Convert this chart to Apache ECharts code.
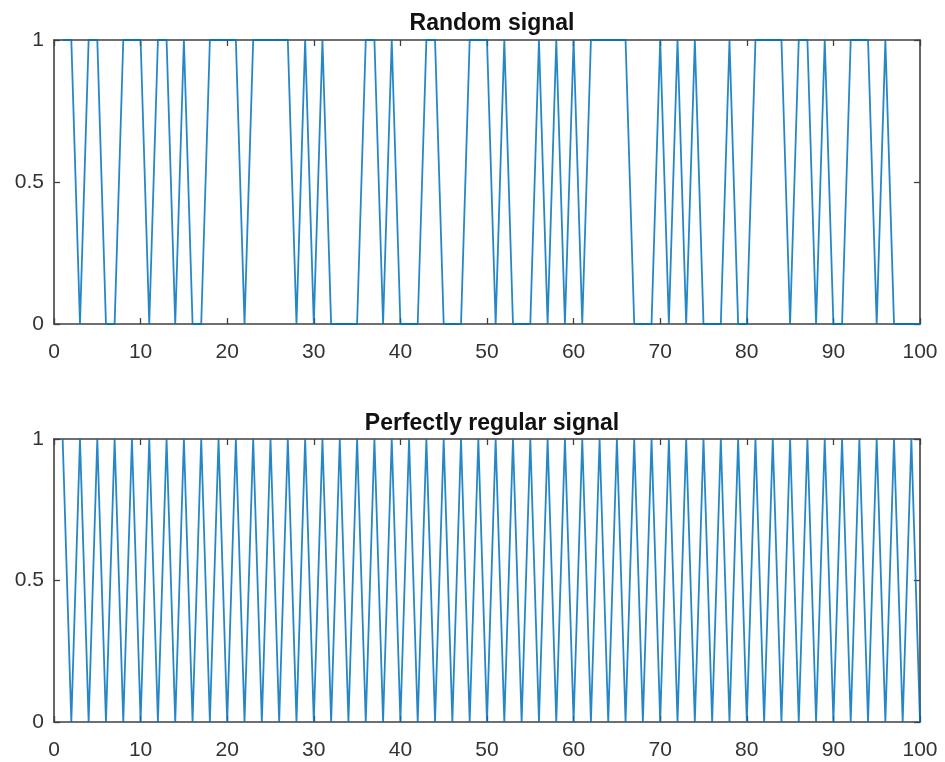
<!DOCTYPE html>
<html>
<head>
<meta charset="utf-8">
<script src="https://cdn.jsdelivr.net/npm/echarts@6/dist/echarts.min.js"></script>
<style>html,body{margin:0;padding:0;background:#fff}#c{width:945px;height:762px}</style>
</head>
<body>
<div id="c"></div>
<script>
var titles = ['Random signal', 'Perfectly regular signal'];
var xValues = [];
for (var i = 1; i <= 100; i++) xValues.push(i);
var randomSignal = [1,1,0,1,1,0,0,1,1,1, 0,1,1,0,1,0,0,1,1,1, 1,0,1,1,1,1,1,0,1,0, 1,0,0,0,0,1,1,0,1,0, 0,0,1,1,0,0,0,1,1,1, 0,1,0,0,0,1,0,1,0,1, 0,1,1,1,1,1,0,0,0,1, 0,1,0,1,0,0,0,1,0,0, 1,1,1,1,0,1,1,0,1,0, 0,1,1,1,0,1,0,0,0,0];
var regularSignal = [1,0,1,0,1,0,1,0,1,0, 1,0,1,0,1,0,1,0,1,0, 1,0,1,0,1,0,1,0,1,0, 1,0,1,0,1,0,1,0,1,0, 1,0,1,0,1,0,1,0,1,0, 1,0,1,0,1,0,1,0,1,0, 1,0,1,0,1,0,1,0,1,0, 1,0,1,0,1,0,1,0,1,0, 1,0,1,0,1,0,1,0,1,0, 1,0,1,0,1,0,1,0,1,0];

function pairs(ys){ return xValues.map(function(x,i){ return [x, ys[i]]; }); }

var FONT = '"Liberation Sans", Arial, Helvetica, sans-serif';
var AX = '#404040';
var TX = '#333333';
var grids = [
  {left: 54, right: 25, top: 40, height: 284},
  {left: 54, right: 25, top: 439, height: 283}
];
function xAx(g, pos, show){
  return {type:'value', gridIndex:g, position:pos, min:0, max:100, interval:10,
    axisLine:{show:true, onZero:false, lineStyle:{color:AX, width:1.6}},
    axisTick:{show:true, inside:true, length:6, lineStyle:{color:AX, width:1.3}},
    axisLabel:{show:show, color:TX, fontFamily:FONT, fontSize:21, margin:18},
    splitLine:{show:false}};
}
function yAx(g, pos, show){
  return {type:'value', gridIndex:g, position:pos, min:0, max:1, interval:0.5,
    axisLine:{show:true, onZero:false, lineStyle:{color:AX, width:1.6}},
    axisTick:{show:true, inside:true, length:6, lineStyle:{color:AX, width:1.3}},
    axisLabel:{show:show, color:TX, fontFamily:FONT, fontSize:21, margin:10},
    splitLine:{show:false}};
}
var chart = echarts.init(document.getElementById('c'), null, {renderer:'canvas'});
chart.setOption({
  animation:false,
  backgroundColor:'#fff',
  title:[
    {text:titles[0], left:487, top:7, textAlign:'center', textStyle:{fontFamily:FONT, fontSize:23, fontWeight:'bold', color:'#111'}},
    {text:titles[1], left:487, top:407, textAlign:'center', textStyle:{fontFamily:FONT, fontSize:23, fontWeight:'bold', color:'#111'}}
  ],
  grid:grids,
  xAxis:[xAx(0,'bottom',true), xAx(0,'top',false), xAx(1,'bottom',true), xAx(1,'top',false)],
  yAxis:[yAx(0,'left',true), yAx(0,'right',false), yAx(1,'left',true), yAx(1,'right',false)],
  series:[
    {type:'line', xAxisIndex:0, yAxisIndex:0, data:pairs(randomSignal), showSymbol:false, lineStyle:{color:'#0072BD', width:1.8, opacity:0.85}, itemStyle:{color:'#0072BD'}},
    {type:'line', xAxisIndex:2, yAxisIndex:2, data:pairs(regularSignal), showSymbol:false, lineStyle:{color:'#0072BD', width:1.8, opacity:0.85}, itemStyle:{color:'#0072BD'}}
  ]
});
</script>
</body>
</html>
